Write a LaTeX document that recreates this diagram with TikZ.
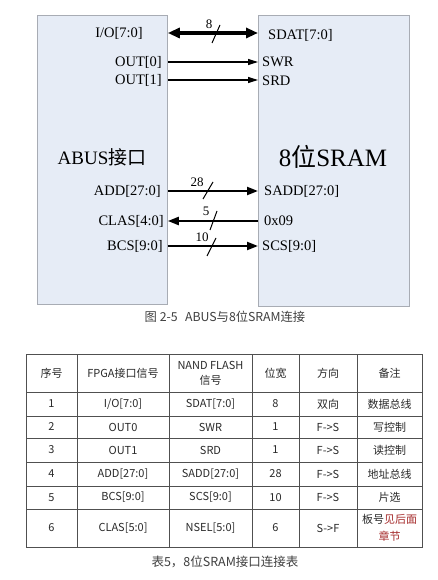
\documentclass[tikz,border=0pt]{standalone}
\usepackage{fontspec}
\setmainfont{Liberation Serif}
\newfontfamily\cjk{Noto Sans CJK SC}
\newfontfamily\tabfont{Noto Sans CJK SC}
\usetikzlibrary{arrows.meta,calc}
\definecolor{boxfill}{HTML}{E6ECF6}
\definecolor{boxline}{HTML}{A8ACB4}
\definecolor{capgray}{HTML}{404040}
\definecolor{tabline}{HTML}{505050}
\definecolor{tabtext}{HTML}{2A2A2A}
\definecolor{darkred}{HTML}{A52A2A}
\tikzset{
  blockbox/.style={draw=boxline, fill=boxfill, line width=0.8pt, inner sep=0pt, anchor=north west},
  lbl/.style={font=\rmfamily\fontsize{14.5}{16}\selectfont, inner sep=0pt},
  lblL/.style={lbl, anchor=east},
  lblR/.style={lbl, anchor=west},
  bigtxt/.style={font=\rmfamily\fontsize{25}{28}\selectfont, inner sep=0pt},
  midtxt/.style={font=\rmfamily\fontsize{19}{22}\selectfont, inner sep=0pt},
  bus/.style={line width=2.2pt, -{Triangle[length=11pt,width=8pt]}},
  iobus/.style={line width=3.2pt, {Triangle[length=12pt,width=10pt]}-{Triangle[length=12pt,width=10pt]}},
  sig/.style={line width=1.2pt, -{Triangle[length=10pt,width=6pt]}},
  slash/.style={line width=1pt},
  num/.style={font=\rmfamily\fontsize{13}{14}\selectfont, inner sep=0pt},
  cell/.style={font=\tabfont\fontsize{11}{15}\selectfont, text=tabtext, inner sep=0pt, align=center},
  tline/.style={draw=tabline, line width=0.8pt},
}
\begin{document}
\begin{tikzpicture}[x=1pt,y=-1pt]
\useasboundingbox[fill=white] (0,0) rectangle (437,580);
% blocks
\node[blockbox, minimum width=130pt, minimum height=289pt] (L) at (37,15) {};
\node[blockbox, minimum width=151pt, minimum height=291pt] (R) at (258,15) {};
\node[midtxt] (Lt) at (102,157) {ABUS{\cjk 接口}};
\node[bigtxt] (Rt) at (333,157) {8{\cjk 位}SRAM};
% left labels
\node[lblL] (io) at (143,33) {I/O[7:0]};
\node[lblL] (o0) at (162,62) {OUT[0]};
\node[lblL] (o1) at (162,80) {OUT[1]};
\node[lblL] (add) at (161,191) {ADD[27:0]};
\node[lblL] (clas) at (164,221) {CLAS[4:0]};
\node[lblL] (bcs) at (163,246) {BCS[9:0]};
% right labels
\node[lblR] (sdat) at (268,35) {SDAT[7:0]};
\node[lblR] (swr) at (262,62) {SWR};
\node[lblR] (srd) at (262,81) {SRD};
\node[lblR] (sadd) at (264,191) {SADD[27:0]};
\node[lblR] (x09) at (264,221) {0x09};
\node[lblR] (scs) at (262,246) {SCS[9:0]};
% connectors
\draw[iobus] (L.east |- 0,33) -- (R.west |- 0,33);
\draw[sig] (L.east |- 0,62) -- (R.west |- 0,62);
\draw[sig] (L.east |- 0,80) -- (R.west |- 0,80);
\draw[bus] (L.east |- 0,191) -- (R.west |- 0,191);
\draw[bus] (R.west |- 0,221) -- (L.east |- 0,221);
\draw[bus] (L.east |- 0,246) -- (R.west |- 0,246);
% bus width marks
\draw[slash] (212,43) -- (220,25);
\node[num] (n8) at (209,24) {8};
\draw[slash] (203,199) -- (213,182);
\node[num] (n28) at (197,182) {28};
\draw[slash] (210,230) -- (217,211);
\node[num] (n5) at (206,211) {5};
\draw[slash] (207,256) -- (216,238);
\node[num] (n10) at (202,237) {10};
% caption 1
\node[font=\cjk\fontsize{12.3}{14}\selectfont, text=capgray, inner sep=0pt] (cap1) at (225,317) {图 2-5\hspace{0.6em}ABUS与8位SRAM连接};
% table
\coordinate (T0) at (26,354);
\coordinate (T1) at (422,547);
\draw[tline] (T0) rectangle (T1);
\foreach \yy in {392,416,438,462,486,509} \draw[tline] (26,\yy) -- (422,\yy);
\foreach \xx in {77,169,252,299,357} \draw[tline] (\xx,354) -- (\xx,547);
% header
\node[cell] (h1) at (51.5,373) {序号};
\node[cell] (h2) at (123,373) {FPGA接口信号};
\node[cell] (h3) at (210.5,373) {NAND FLASH\\信号};
\node[cell] (h4) at (275.5,373) {位宽};
\node[cell] (h5) at (328,373) {方向};
\node[cell] (h6) at (389.5,373) {备注};
% rows
\foreach \n/\yy/\a/\b/\c/\d/\e/\f in {
 r1/404/1/{I/O[7:0]}/SDAT[7:0]/8/双向/数据总线,
 r2/427/2/OUT0/SWR/1/F->S/写控制,
 r3/450/3/OUT1/SRD/1/F->S/读控制,
 r4/474/4/ADD[27:0]/SADD[27:0]/28/F->S/地址总线,
 r5/497.5/5/BCS[9:0]/SCS[9:0]/10/F->S/片选}{
 \node[cell] (\n a) at (51.5,\yy) {\a};
 \node[cell] (\n b) at (123,\yy) {\b};
 \node[cell] (\n c) at (210.5,\yy) {\c};
 \node[cell] (\n d) at (275.5,\yy) {\d};
 \node[cell] (\n e) at (328,\yy) {\e};
 \node[cell] (\n f) at (389.5,\yy) {\f};
}
\node[cell] (r6a) at (51.5,528) {6};
\node[cell] (r6b) at (123,528) {CLAS[5:0]};
\node[cell] (r6c) at (210.5,528) {NSEL[5:0]};
\node[cell] (r6d) at (275.5,528) {6};
\node[cell] (r6e) at (328,528) {S->F};
\node[cell, font=\tabfont\fontsize{11}{17}\selectfont] (r6f) at (389.5,528) {板号\textcolor{darkred}{见后面}\\\textcolor{darkred}{章节}};
% caption 2
\node[font=\cjk\fontsize{12.5}{14}\selectfont, text=capgray, inner sep=0pt] (cap2) at (225,562) {表5，8位SRAM接口连接表};
\end{tikzpicture}
\end{document}
